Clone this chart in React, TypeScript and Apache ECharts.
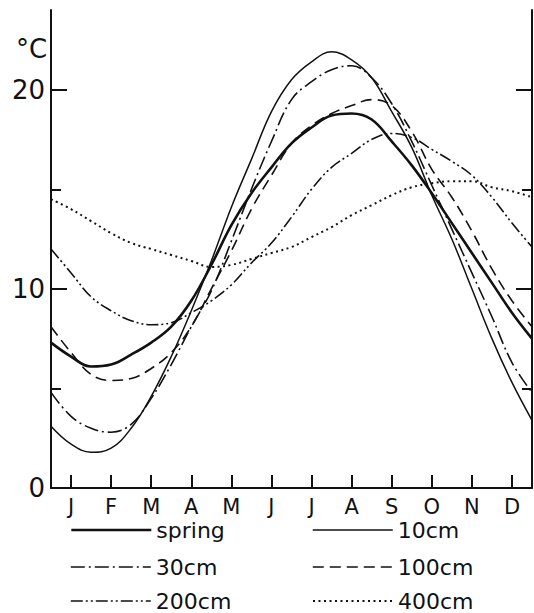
import React, { useEffect, useRef } from "react";
import * as echarts from "echarts";

// ---- data ----
const months = ["J", "F", "M", "A", "M", "J", "J", "A", "S", "O", "N", "D"];
const monthCenters = [0.5, 1.5, 2.5, 3.5, 4.5, 5.5, 6.5, 7.5, 8.5, 9.5, 10.5, 11.5];
// sample positions in months from 1 January (half-month steps)
const samplePositions = [
  0, 0.5, 1, 1.5, 2, 2.5, 3, 3.5, 4, 4.5, 5, 5.5, 6, 6.5, 7, 7.5, 8, 8.5, 9, 9.5, 10, 10.5, 11, 11.5, 12,
];

const spring = [7.3, 6.6, 6.1, 6.2, 6.7, 7.3, 8.1, 9.4, 11.2, 13.2, 14.8, 16.1, 17.3, 18.1, 18.7, 18.8, 18.5, 17.4, 16.2, 14.8, 13.3, 11.8, 10.3, 8.8, 7.5];
const cm10 = [3.1, 2.2, 1.8, 2.0, 3.0, 4.6, 6.6, 8.9, 11.4, 14.1, 16.5, 18.9, 20.5, 21.4, 21.9, 21.5, 20.6, 18.9, 17.1, 14.7, 12.5, 10.0, 7.5, 5.3, 3.4];
const cm30 = [4.8, 3.6, 3.0, 2.8, 3.2, 4.5, 6.2, 8.1, 9.9, 12.4, 15.0, 17.4, 19.5, 20.4, 21.0, 21.2, 20.6, 19.3, 17.4, 15.2, 13.0, 10.8, 8.6, 6.3, 4.8];
const cm100 = [8.1, 6.8, 5.7, 5.4, 5.5, 6.0, 6.8, 8.1, 10.0, 11.9, 14.0, 15.7, 17.3, 18.2, 18.8, 19.2, 19.5, 19.2, 17.9, 16.0, 14.6, 12.9, 11.0, 9.4, 8.1];
const cm200 = [12.0, 10.8, 9.6, 8.9, 8.4, 8.2, 8.3, 8.8, 9.4, 10.2, 11.3, 12.3, 13.6, 15.0, 16.1, 16.8, 17.5, 17.8, 17.6, 17.0, 16.4, 15.7, 14.6, 13.3, 12.1];
const cm400 = [14.5, 14.0, 13.4, 12.8, 12.3, 12.0, 11.7, 11.4, 11.1, 11.2, 11.5, 11.8, 12.1, 12.6, 13.1, 13.7, 14.2, 14.7, 15.1, 15.3, 15.4, 15.4, 15.1, 14.9, 14.6];

const seriesNames = ["spring", "10cm", "30cm", "100cm", "200cm", "400cm"];
const seriesValues = [spring, cm10, cm30, cm100, cm200, cm400];

const yLabelValues = [0, 10, 20];
const yMajorTicks = [10, 20];
const yMinorTicks = [5, 15];
const yUnit = "°C";

// ---- styles ----
const FONT = "DejaVu Sans";
const BLACK = "#111";
const lineStyles: any[] = [
  { width: 2.6, type: "solid" },
  { width: 1.5, type: "solid" },
  { width: 1.6, type: [14, 4, 2, 4] },
  { width: 1.6, type: [11, 6] },
  { width: 1.6, type: [12, 3, 2, 3, 2, 3] },
  { width: 2, type: [2, 3.5] },
];
const legendLeft = [70, 312, 70, 312, 70, 312];
const legendCenterY = [530, 530, 567, 567, 601, 601];

export default function App() {
  const ref = useRef<HTMLDivElement>(null);

  useEffect(() => {
    document.body.style.margin = "0";
    if (!ref.current) return;
    const chart = echarts.init(ref.current, undefined, { renderer: "svg" });

    const yBase = {
      type: "value",
      min: 0,
      max: 24,
      splitLine: { show: false },
    };

    const option: any = {
      animation: false,
      backgroundColor: "#fff",
      grid: { left: 51, right: 2, top: 10, bottom: 125 },
      xAxis: {
        type: "value",
        min: 0,
        max: 12,
        splitLine: { show: false },
        axisLine: { show: true, lineStyle: { color: BLACK, width: 2 } },
        axisTick: {
          show: true,
          inside: true,
          length: 13,
          customValues: monthCenters,
          lineStyle: { color: BLACK, width: 2 },
        },
        axisLabel: {
          customValues: monthCenters,
          formatter: (v: number) => months[Math.round(v - 0.5)] ?? "",
          color: BLACK,
          fontSize: 21,
          fontFamily: FONT,
          margin: 8,
        },
      },
      yAxis: [
        {
          ...yBase,
          position: "left",
          axisLine: { show: true, lineStyle: { color: BLACK, width: 2 } },
          axisTick: {
            show: true,
            inside: true,
            length: 16,
            customValues: yMajorTicks,
            lineStyle: { color: BLACK, width: 2 },
          },
          axisLabel: {
            customValues: yLabelValues,
            color: BLACK,
            fontSize: 26,
            fontFamily: FONT,
            margin: 6,
          },
        },
        {
          ...yBase,
          position: "left",
          axisLine: { show: false },
          axisTick: {
            show: true,
            inside: true,
            length: 10,
            customValues: yMinorTicks,
            lineStyle: { color: BLACK, width: 2 },
          },
          axisLabel: { show: false },
        },
        {
          ...yBase,
          position: "right",
          axisLine: { show: true, lineStyle: { color: BLACK, width: 2 } },
          axisTick: {
            show: true,
            inside: true,
            length: 16,
            customValues: yMajorTicks,
            lineStyle: { color: BLACK, width: 2 },
          },
          axisLabel: { show: false },
        },
        {
          ...yBase,
          position: "right",
          axisLine: { show: false },
          axisTick: {
            show: true,
            inside: true,
            length: 10,
            customValues: yMinorTicks,
            lineStyle: { color: BLACK, width: 2 },
          },
          axisLabel: { show: false },
        },
      ],
      legend: seriesNames.map((name, i) => ({
        data: [name],
        left: legendLeft[i],
        top: legendCenterY[i] - 12,
        itemWidth: 80,
        itemHeight: 14,
        selectedMode: false,
        padding: 0,
        itemStyle: { opacity: 0 },
        lineStyle: { color: BLACK, width: lineStyles[i].width, type: lineStyles[i].type },
        textStyle: { color: BLACK, fontSize: 22, fontFamily: FONT, lineHeight: 24 },
      })),
      graphic: [
        {
          type: "text",
          left: 16,
          top: 36,
          style: { text: yUnit, fill: BLACK, font: `26px "${FONT}"` },
        },
      ],
      series: seriesNames.map((name, i) => ({
        name,
        type: "line",
        smooth: 0.4,
        symbol: "none",
        showSymbol: false,
        xAxisIndex: 0,
        yAxisIndex: 0,
        data: samplePositions.map((x, j) => [x, seriesValues[i][j]]),
        lineStyle: { color: BLACK, width: lineStyles[i].width, type: lineStyles[i].type },
        itemStyle: { color: BLACK },
      })),
    };

    chart.setOption(option);
    return () => chart.dispose();
  }, []);

  return <div ref={ref} style={{ width: 534, height: 613 }} />;
}
